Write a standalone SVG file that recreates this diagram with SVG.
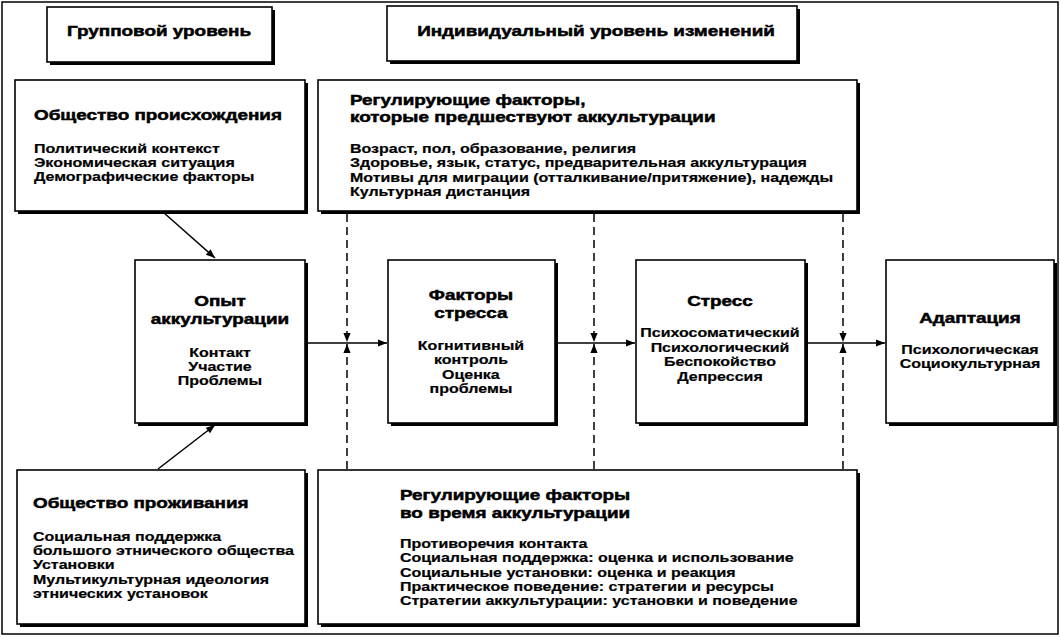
<svg xmlns="http://www.w3.org/2000/svg" width="1060" height="637" viewBox="0 0 1060 637">
<defs>
<style>
.frame{fill:none;stroke:#000;stroke-width:1.5}
.sh{fill:#000}
.bx{fill:#fff;stroke:#000;stroke-width:1.6}
.t{font-family:"Liberation Sans",Arial,sans-serif;font-weight:700;font-size:15px;fill:#000;stroke:#000;stroke-width:0.5;transform-box:fill-box;transform-origin:0 0;transform:scaleX(1.26)}
.b{font-family:"Liberation Sans",Arial,sans-serif;font-weight:700;font-size:13px;fill:#000;stroke:#000;stroke-width:0.2;transform-box:fill-box;transform-origin:0 0;transform:scaleX(1.23)}
.c{text-anchor:middle;transform-origin:50% 0}
.ln{fill:none;stroke:#000;stroke-width:1.5}
.dash{fill:none;stroke:#000;stroke-width:1.5;stroke-dasharray:8 5}
</style>
<marker id="ah" viewBox="0 0 10 10" refX="10" refY="5" markerWidth="10" markerHeight="9" markerUnits="userSpaceOnUse" orient="auto">
<path d="M0,1 L10,5 L0,9 Z" fill="#000"/>
</marker>
<marker id="ahs" viewBox="0 0 10 10" refX="10" refY="5" markerWidth="10" markerHeight="9" markerUnits="userSpaceOnUse" orient="auto">
<path d="M0,1 L10,5 L0,9 Z" fill="#000"/>
</marker>
</defs>
<rect width="1060" height="637" fill="#fff"/>
<rect class="frame" x="2" y="2" width="1056" height="632"/>

<g id="hdr-group">
<rect class="sh" x="50" y="10" width="225" height="55"/>
<rect class="bx" x="47" y="7" width="225" height="55"/>
<text class="t c" x="159" y="36">Групповой уровень</text>
</g>
<g id="hdr-individual">
<rect class="sh" x="390" y="9" width="410" height="55"/>
<rect class="bx" x="387" y="6" width="410" height="55"/>
<text class="t c" x="596" y="36">Индивидуальный уровень изменений</text>
</g>

<g id="origin-society">
<rect class="sh" x="18" y="83" width="290" height="131"/>
<rect class="bx" x="15" y="80" width="290" height="131"/>
<text class="t" x="34" y="120">Общество происхождения</text>
<text class="b" x="34" y="153">Политический контекст</text>
<text class="b" x="34" y="167">Экономическая ситуация</text>
<text class="b" x="34" y="181">Демографические факторы</text>
</g>

<g id="pre-factors">
<rect class="sh" x="321" y="83" width="539" height="131"/>
<rect class="bx" x="318" y="80" width="539" height="131"/>
<text class="t" x="350" y="105">Регулирующие факторы,</text>
<text class="t" x="350" y="122">которые предшествуют аккультурации</text>
<text class="b" x="350" y="153">Возраст, пол, образование, религия</text>
<text class="b" x="350" y="167">Здоровье, язык, статус, предварительная аккультурация</text>
<text class="b" x="350" y="182">Мотивы для миграции (отталкивание/притяжение), надежды</text>
<text class="b" x="350" y="196">Культурная дистанция</text>
</g>

<g id="experience">
<rect class="sh" x="138" y="263" width="170" height="163"/>
<rect class="bx" x="135" y="260" width="170" height="163"/>
<text class="t c" x="220" y="306">Опыт</text>
<text class="t c" x="220" y="324">аккультурации</text>
<text class="b c" x="220" y="357">Контакт</text>
<text class="b c" x="220" y="371">Участие</text>
<text class="b c" x="220" y="385">Проблемы</text>
</g>

<g id="stress-factors">
<rect class="sh" x="391" y="263" width="167" height="163"/>
<rect class="bx" x="388" y="260" width="167" height="163"/>
<text class="t c" x="471" y="300">Факторы</text>
<text class="t c" x="471" y="318">стресса</text>
<text class="b c" x="471" y="350">Когнитивный</text>
<text class="b c" x="471" y="364">контроль</text>
<text class="b c" x="471" y="379">Оценка</text>
<text class="b c" x="471" y="393">проблемы</text>
</g>

<g id="stress">
<rect class="sh" x="639" y="263" width="169" height="163"/>
<rect class="bx" x="636" y="260" width="169" height="163"/>
<text class="t c" x="720" y="306">Стресс</text>
<text class="b c" x="720" y="337">Психосоматический</text>
<text class="b c" x="720" y="352">Психологический</text>
<text class="b c" x="720" y="366">Беспокойство</text>
<text class="b c" x="720" y="381">Депрессия</text>
</g>

<g id="adaptation">
<rect class="sh" x="889" y="263" width="168" height="163"/>
<rect class="bx" x="886" y="260" width="168" height="163"/>
<text class="t c" x="970" y="323">Адаптация</text>
<text class="b c" x="970" y="354">Психологическая</text>
<text class="b c" x="970" y="368">Социокультурная</text>
</g>

<g id="host-society">
<rect class="sh" x="20" y="473" width="288" height="154"/>
<rect class="bx" x="17" y="470" width="288" height="154"/>
<text class="t" x="33" y="508">Общество проживания</text>
<text class="b" x="33" y="541">Социальная поддержка</text>
<text class="b" x="33" y="555">большого этнического общества</text>
<text class="b" x="33" y="569">Установки</text>
<text class="b" x="33" y="584">Мультикультурная идеология</text>
<text class="b" x="33" y="598">этнических установок</text>
</g>

<g id="during-factors">
<rect class="sh" x="321" y="473" width="539" height="154"/>
<rect class="bx" x="318" y="470" width="539" height="154"/>
<text class="t" x="400" y="500">Регулирующие факторы</text>
<text class="t" x="400" y="518">во время аккультурации</text>
<text class="b" x="400" y="548">Противоречия контакта</text>
<text class="b" x="400" y="562">Социальная поддержка: оценка и использование</text>
<text class="b" x="400" y="577">Социальные установки: оценка и реакция</text>
<text class="b" x="400" y="591">Практическое поведение: стратегии и ресурсы</text>
<text class="b" x="400" y="605">Стратегии аккультурации: установки и поведение</text>
</g>

<g id="connectors">
<line class="ln" x1="163" y1="212" x2="215" y2="258" marker-end="url(#ah)"/>
<line class="ln" x1="158" y1="469" x2="215" y2="425" marker-end="url(#ah)"/>
<line class="ln" x1="306" y1="343" x2="387" y2="343" marker-end="url(#ah)"/>
<line class="ln" x1="556" y1="343" x2="635" y2="343" marker-end="url(#ah)"/>
<line class="ln" x1="806" y1="343" x2="885" y2="343" marker-end="url(#ah)"/>
<line class="dash" x1="347" y1="214" x2="347" y2="342" marker-end="url(#ahs)"/>
<line class="dash" x1="347" y1="469" x2="347" y2="344" marker-end="url(#ahs)"/>
<line class="dash" x1="594" y1="214" x2="594" y2="342" marker-end="url(#ahs)"/>
<line class="dash" x1="594" y1="469" x2="594" y2="344" marker-end="url(#ahs)"/>
<line class="dash" x1="843" y1="214" x2="843" y2="342" marker-end="url(#ahs)"/>
<line class="dash" x1="843" y1="469" x2="843" y2="344" marker-end="url(#ahs)"/>
</g>
</svg>
